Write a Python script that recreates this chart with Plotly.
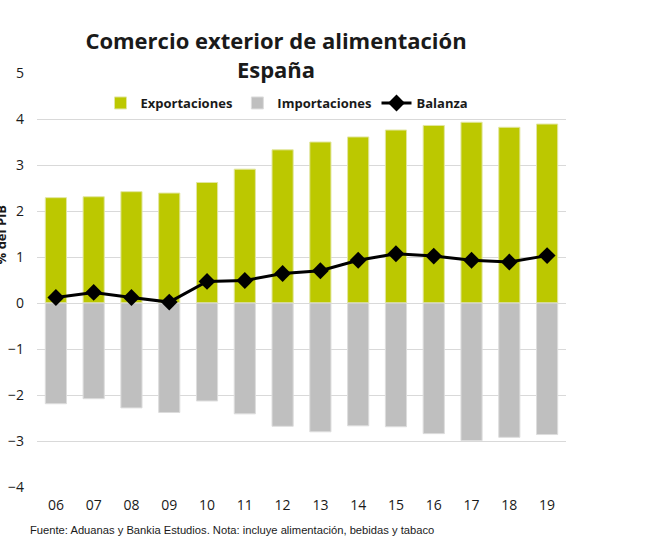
import plotly.graph_objects as go

years = ["06", "07", "08", "09", "10", "11", "12", "13", "14", "15", "16", "17", "18", "19"]
exportaciones = [2.29, 2.31, 2.42, 2.39, 2.62, 2.91, 3.33, 3.50, 3.61, 3.76, 3.86, 3.93, 3.82, 3.89]
importaciones = [-2.19, -2.08, -2.28, -2.38, -2.13, -2.41, -2.68, -2.80, -2.67, -2.69, -2.84, -2.99, -2.92, -2.86]
balanza = [0.12, 0.23, 0.12, 0.02, 0.47, 0.49, 0.64, 0.70, 0.93, 1.07, 1.02, 0.93, 0.89, 1.03]

font_main = "Open Sans"
txt = "#1a1a1a"

fig = go.Figure()
fig.add_trace(go.Bar(x=years, y=exportaciones, name="<b>Exportaciones</b>",
                     marker=dict(color="#BCC800", line=dict(color="#E2E6A0", width=1))))
fig.add_trace(go.Bar(x=years, y=importaciones, name="<b>Importaciones</b>",
                     marker=dict(color="#BFBFBF", line=dict(color="#DDDDDD", width=1))))
fig.add_trace(go.Scatter(x=years, y=balanza, name="<b>Balanza</b>", mode="lines+markers",
                         line=dict(color="black", width=3),
                         marker=dict(symbol="diamond", size=13, color="black")))

fig.update_layout(
    width=648, height=559,
    barmode="relative", bargap=0.44,
    paper_bgcolor="white", plot_bgcolor="white",
    margin=dict(l=37, r=82, t=73, b=72, autoexpand=False),
    title=dict(text="<b>Comercio exterior de alimentación<br>España</b>",
               x=276/648, xanchor="center", xref="container",
               y=1 - 49/559, yanchor="middle", yref="container",
               font=dict(family=font_main, size=22, color=txt)),
    legend=dict(orientation="h", x=287/648, xref="container", xanchor="center",
                y=1 - 103/559, yref="container", yanchor="middle",
                font=dict(family=font_main, size=13, color=txt),
                traceorder="normal", itemwidth=30, bgcolor="rgba(0,0,0,0)"),
    font=dict(family=font_main, color=txt),
    showlegend=True,
)
fig.update_xaxes(range=[-0.5, 13.5], showgrid=False, showline=False, ticks="",
                 tickfont=dict(family=font_main, size=14, color=txt),
                 ticklabelstandoff=8)
fig.update_yaxes(range=[-4, 5], dtick=1, showgrid=True, gridcolor="#D9D9D9", gridwidth=1,
                 zeroline=False, showline=False, ticks="",
                 tickfont=dict(family=font_main, size=14, color=txt),
                 ticklabelstandoff=12)
fig.add_annotation(text="<b>% del PIB</b>", xref="paper", yref="paper", x=0, xshift=-47,
                   y=0.61, textangle=-90, showarrow=False,
                   font=dict(family=font_main, size=13, color=txt))
fig.add_annotation(text="Fuente: Aduanas y Bankia Estudios. Nota: incluye alimentación, bebidas y tabaco",
                   xref="paper", yref="paper", x=-9/529, y=-43/414, xanchor="left", yanchor="middle",
                   showarrow=False, font=dict(family="Liberation Sans", size=11.2, color=txt))

fig.write_html("out.html", config={"displayModeBar": False},
               post_script="document.body.style.margin='0';")
